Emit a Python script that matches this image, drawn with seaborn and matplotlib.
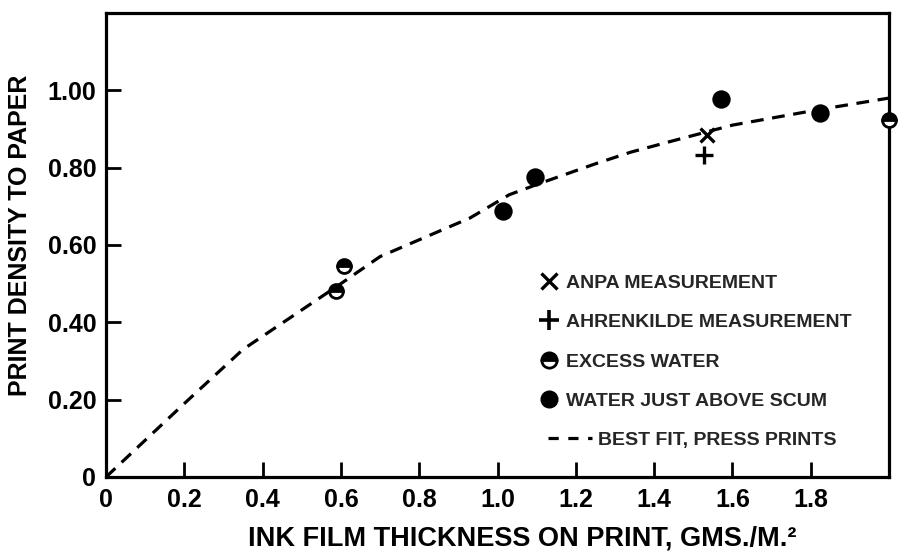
import matplotlib
matplotlib.use("Agg")
import matplotlib.pyplot as plt
import seaborn as sns
import pandas as pd
from matplotlib.lines import Line2D

# ---------------- data ----------------
anpa_x = [1.536]
anpa_y = [0.885]
ahren_x = [1.528]
ahren_y = [0.833]
excess_x = [0.587, 0.608, 2.0]
excess_y = [0.480, 0.546, 0.923]
scum_x = [1.015, 1.097, 1.570, 1.823]
scum_y = [0.687, 0.777, 0.977, 0.941]
fit_x = [0.0, 0.2, 0.35, 0.6, 0.7, 0.93, 1.03, 1.11, 1.25, 1.34, 1.45, 1.6, 1.82, 2.0]
fit_y = [0.0, 0.19, 0.33, 0.50, 0.57, 0.67, 0.73, 0.76, 0.81, 0.84, 0.87, 0.91, 0.95, 0.98]

x_ticks = [0, 0.2, 0.4, 0.6, 0.8, 1.0, 1.2, 1.4, 1.6, 1.8]
x_ticklabels = ["0", "0.2", "0.4", "0.6", "0.8", "1.0", "1.2", "1.4", "1.6", "1.8"]
y_ticks = [0, 0.2, 0.4, 0.6, 0.8, 1.0]
y_ticklabels = ["0", "0.20", "0.40", "0.60", "0.80", "1.00"]

labels = ["ANPA MEASUREMENT", "AHRENKILDE MEASUREMENT", "EXCESS WATER",
          "WATER JUST ABOVE SCUM", "BEST FIT, PRESS PRINTS"]
xlabel = "INK FILM THICKNESS ON PRINT, GMS./M.\u00b2"
ylabel = "PRINT DENSITY TO PAPER"

# ---------------- style ----------------
sns.set_theme(style="white")
plt.rcParams["font.family"] = ["Liberation Sans", "DejaVu Sans"]
plt.rcParams["font.weight"] = "bold"

fig = plt.figure(figsize=(8.99, 5.52), dpi=100)
ax = fig.add_axes([106 / 899, 1 - 477 / 552, 783 / 899, 464 / 552])

dash = (4.0, 2.7)
fit_df = pd.DataFrame({"x": fit_x, "y": fit_y})
sns.lineplot(data=fit_df, x="x", y="y", ax=ax, color="black", lw=2.3,
             estimator=None, sort=False, dashes=False)
ax.lines[-1].set_dashes(dash)
ax.lines[-1].set_clip_on(False)

sns.scatterplot(x=scum_x, y=scum_y, ax=ax, marker="o", s=175, color="black",
                edgecolor="black", linewidth=0, zorder=3, clip_on=False)
sns.scatterplot(x=anpa_x, y=anpa_y, ax=ax, marker="x", s=100, color="black",
                linewidth=2.4, zorder=3)
sns.scatterplot(x=ahren_x, y=ahren_y, ax=ax, marker="+", s=150, color="black",
                linewidth=2.4, zorder=3)
ax.plot(excess_x, excess_y, ls="none", marker="o", ms=10, fillstyle="top",
        markerfacecolor="black", markerfacecoloralt="white",
        markeredgecolor="black", markeredgewidth=2.0, zorder=4, clip_on=False)

ax.set_xlim(0, 2.0)
ax.set_ylim(0, 1.2)
ax.set_xticks(x_ticks)
ax.set_xticklabels(x_ticklabels)
ax.set_yticks(y_ticks)
ax.set_yticklabels(y_ticklabels)
ax.tick_params(axis="both", direction="in", length=11, width=2.0,
               labelsize=18, colors="black", bottom=True, left=True,
               top=False, right=False)
ax.tick_params(axis="y", pad=7)
ax.tick_params(axis="x", pad=8)
for lab in ax.get_xticklabels() + ax.get_yticklabels():
    lab.set_fontweight("bold")

for sp in ax.spines.values():
    sp.set_visible(True)
    sp.set_color("black")
    sp.set_linewidth(2.3)

ax.set_xlabel(xlabel, fontsize=19.5, fontweight="bold", color="black")
ax.set_ylabel(ylabel, fontsize=18, fontweight="bold", color="black")
ax.xaxis.set_label_coords(0.531, -0.105)
ax.yaxis.set_label_coords(-0.095, 0.52)

# ---------------- legends ----------------
h_marks = [
    Line2D([], [], ls="none", marker="x", ms=11, mew=2.4, color="black"),
    Line2D([], [], ls="none", marker="+", ms=14, mew=2.6, color="black"),
    Line2D([], [], ls="none", marker="o", ms=11, fillstyle="top",
           markerfacecolor="black", markerfacecoloralt="white",
           markeredgecolor="black", mew=2.0),
    Line2D([], [], ls="none", marker="o", ms=12, color="black"),
]
leg1 = ax.legend(h_marks, labels[:4], loc="upper left",
                 bbox_to_anchor=(0.555, 0.437), frameon=False,
                 prop={"size": 14, "weight": "bold"}, handlelength=0.85,
                 handletextpad=0.45, labelspacing=1.12, borderpad=0,
                 borderaxespad=0)
ax.add_artist(leg1)
h_line = [Line2D([], [], color="black", lw=2.3, dashes=(3.2, 3.0))]
ax.legend(h_line, labels[4:], loc="upper left", bbox_to_anchor=(0.5645, 0.099),
          frameon=False, prop={"size": 14, "weight": "bold"},
          handlelength=2.25, handletextpad=0.3, borderpad=0, borderaxespad=0)

fig.savefig("out.png", dpi=100)
